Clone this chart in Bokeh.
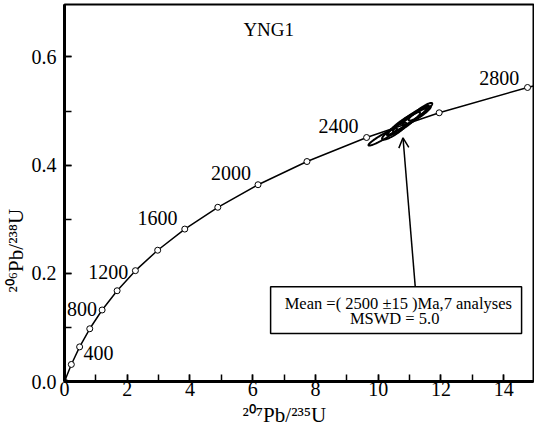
import numpy as np
from bokeh.plotting import figure
from bokeh.models import (Range1d, SingleIntervalTicker, PrintfTickFormatter, Label,
                          BoxAnnotation, Arrow, OpenHead, ColumnDataSource, Title)
from bokeh.core.properties import value
from bokeh.embed import file_html
from bokeh.resources import INLINE

# ---- data ----
ages = [0, 200, 400, 600, 800, 1000, 1200, 1400, 1600, 1800, 2000, 2200, 2400, 2600, 2800]
conc_x = [0.0, 0.218, 0.482, 0.805, 1.199, 1.677, 2.260, 2.970, 3.834, 4.887,
          6.169, 7.729, 9.630, 11.944, 14.76]
conc_y = [0.0, 0.0315, 0.0640, 0.0975, 0.1322, 0.1678, 0.2049, 0.2427, 0.2818, 0.3221,
          0.3638, 0.4067, 0.4511, 0.4968, 0.5436]
curve_end_x = 14.95
curve_end_y = 0.5465

age_labels = ["400", "800", "1200", "1600", "2000", "2400", "2800"]

# analyses: 207Pb/235U, 2-sigma, 206Pb/238U, 2-sigma, error correlation
ell_x = [10.145, 10.514, 10.822, 11.037, 11.222, 10.914, 11.345]
ell_sx = [0.455, 0.391, 0.509, 0.570, 0.454, 0.646, 0.377]
ell_y = [0.4519, 0.4627, 0.4770, 0.4860, 0.4914, 0.4806, 0.4986]
ell_sy = [0.01575, 0.01558, 0.02142, 0.02373, 0.0177, 0.02474, 0.01641]
ell_rho = [0.944, 0.880, 0.915, 0.947, 0.932, 0.976, 0.917]

title_text = "YNG1"
box_line1 = "Mean =( 2500 ±15 )Ma,7 analyses"
box_line2 = "MSWD =  5.0"
x_label = "²⁰⁷Pb/²³⁵U"
y_label = "²⁰⁶Pb/²³⁸U"

# ---- layout (positions) ----
label_pos_x = [0.606, 0.083, 0.76, 2.33, 4.67, 8.10, 13.22]
label_pos_y = [0.0533, 0.134, 0.2023, 0.3029, 0.3855, 0.4716, 0.561]

FONT = "Liberation Serif"

p = figure(width=534, height=429, output_backend="svg", toolbar_location=None,
           x_range=Range1d(0, 14.95), y_range=Range1d(0, 0.697),
           min_border_left=62, min_border_right=1, min_border_top=4, min_border_bottom=45)
p.grid.visible = False
p.outline_line_color = "black"
p.outline_line_width = 2
p.background_fill_color = "white"
p.border_fill_color = "white"

p.xaxis.ticker = SingleIntervalTicker(interval=2, num_minor_ticks=2)
p.yaxis.ticker = SingleIntervalTicker(interval=0.2, num_minor_ticks=2)
p.xaxis.formatter = PrintfTickFormatter(format="%d")
p.yaxis.formatter = PrintfTickFormatter(format="%.1f")
for ax in (p.xaxis, p.yaxis):
    ax.axis_line_width = 3
    ax.axis_line_color = "black"
    ax.major_tick_in = 7
    ax.major_tick_out = 0
    ax.minor_tick_in = 7
    ax.minor_tick_out = 0
    ax.major_tick_line_width = 1.5
    ax.minor_tick_line_width = 1.5
    ax.major_tick_line_color = "black"
    ax.minor_tick_line_color = "black"
    ax.major_label_text_font = FONT
    ax.major_label_text_font_size = "20px"
    ax.major_label_text_color = "black"
p.xaxis.major_label_standoff = 0
p.yaxis.major_label_standoff = 8

# axis titles (side titles, shifted like the reference)
p.add_layout(Title(text=y_label, align="left", offset=89, standoff=2,
                   text_font=FONT, text_font_size="21px", text_font_style="normal",
                   text_color="black"), "left")
p.add_layout(Title(text=x_label, align="left", offset=178, standoff=5,
                   text_font=FONT, text_font_size="21px", text_font_style="normal",
                   text_color="black"), "below")

# concordia curve
p.line(conc_x + [curve_end_x], conc_y + [curve_end_y], line_color="black", line_width=1.5)

# error ellipses
t = np.linspace(0, 2 * np.pi, 120)
xs, ys = [], []
for cx, sx, cy, sy, r in zip(ell_x, ell_sx, ell_y, ell_sy, ell_rho):
    xs.append(list(cx + sx * np.cos(t)))
    ys.append(list(cy + sy * (r * np.cos(t) + np.sqrt(1 - r * r) * np.sin(t))))
p.patches(xs, ys, fill_color=None, line_color="black", line_width=2)

# age markers
p.scatter(conc_x, conc_y, marker="circle", size=6, fill_color="white",
          line_color="black", line_width=1)

# age labels
src = ColumnDataSource(dict(x=label_pos_x, y=label_pos_y, t=age_labels))
p.text(x="x", y="y", text="t", source=src, text_font=value(FONT), text_font_size="20px",
       text_align="left", text_baseline="middle", text_color="black")

# title
p.add_layout(Label(x=6.51, y=0.651, text=title_text, text_font=FONT, text_font_size="19px",
                   text_align="center", text_baseline="middle", text_color="black"))

# arrow
p.add_layout(Arrow(end=OpenHead(size=10, line_width=1.5, line_color="black"),
                   x_start=11.18, y_start=0.1754, x_end=10.79, y_end=0.4506,
                   line_color="black", line_width=1.5))

# text box
p.add_layout(BoxAnnotation(left=6.57, right=14.57, bottom=0.0887, top=0.1754,
                           fill_color="white", fill_alpha=1.0, line_color="black",
                           line_width=1.5, line_alpha=1.0))
p.add_layout(Label(x=10.64, y=0.1443, text=box_line1, text_font=FONT, text_font_size="16.5px",
                   text_align="center", text_baseline="middle", text_color="black"))
p.add_layout(Label(x=10.59, y=0.1156, text=box_line2, text_font=FONT, text_font_size="16.5px",
                   text_align="center", text_baseline="middle", text_color="black"))

open("out.html", "w").write(file_html(p, INLINE))
